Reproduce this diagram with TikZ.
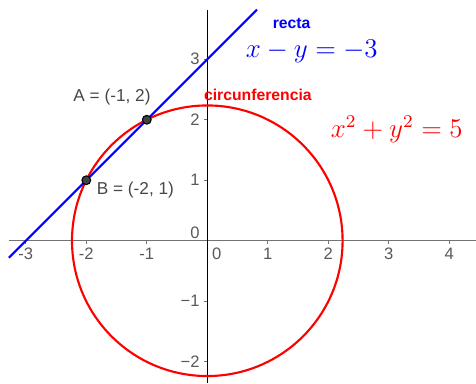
\documentclass[tikz,border=0pt]{standalone}
\usepackage{fontspec}
\setmainfont{Liberation Sans}
\begin{document}
\begin{tikzpicture}[
  axis/.style={line width=0.5pt},
  tick/.style={line width=0.45pt},
  ticklabel/.style={font=\fontsize{7.8}{9}\selectfont,text=black!65,inner sep=0pt},
  curvename/.style={font=\fontsize{7.4}{9}\selectfont\bfseries,inner sep=0pt},
  eq/.style={font=\large,scale=1.06,transform shape,inner sep=0pt},
  ptlabel/.style={font=\fontsize{8.1}{10}\selectfont,text=black!72,inner sep=0pt},
  point/.style={circle,draw=black,fill=black!74,line width=0.5pt,minimum size=0.145cm,inner sep=0pt},
]
\useasboundingbox (-3.426,-2.352) rectangle (4.441,3.979);
% axes
\draw[axis,draw=black!55] (-3.28,0)--(4.441,0);
\draw[axis,draw=black] (0,-2.352)--(0,3.81);
\foreach \x in {-3,-2,-1,1,2,3,4}{
  \draw[tick,black!55] (\x,0)--(\x,-0.05);
  \node[ticklabel] (xl\x) at (\x,-0.21) {\x};
}
\node[ticklabel] (xl0) at (0.155,-0.21) {0};
\foreach \y/\t in {-2/−2,-1/−1,1/1,2/2,3/3}{
  \draw[tick,black!55] (0,\y)--(-0.06,\y);
  \node[ticklabel,anchor=east] (yl\y) at (-0.12,\y) {\t};
}
\node[ticklabel,anchor=east] (yl0) at (-0.12,0.13) {0};
% curves
\draw[red,line width=1pt] (0,0) circle ({sqrt(5)});
\draw[blue,line width=1pt] (-3.28,-0.28)--(0.82,3.82);
% points
\node[point] (A) at (-1,2) {};
\node[point] (B) at (-2,1) {};
\node[ptlabel] (labA) at (-1.575,2.370) {A = (-1, 2)};
\node[ptlabel] (labB) at (-1.188,0.838) {B = (-2, 1)};
% names and equations
\node[curvename,text=blue] (recta) at (1.393,3.593) {recta};
\node[eq,text=blue] (eqrecta) at (1.726,3.124) {$x-y=-3$};
\node[curvename,text=red] (circ) at (0.836,2.408) {circunferencia};
\node[eq,text=red] (eqcirc) at (3.131,1.835) {$x^2+y^2=5$};
\end{tikzpicture}
\end{document}
